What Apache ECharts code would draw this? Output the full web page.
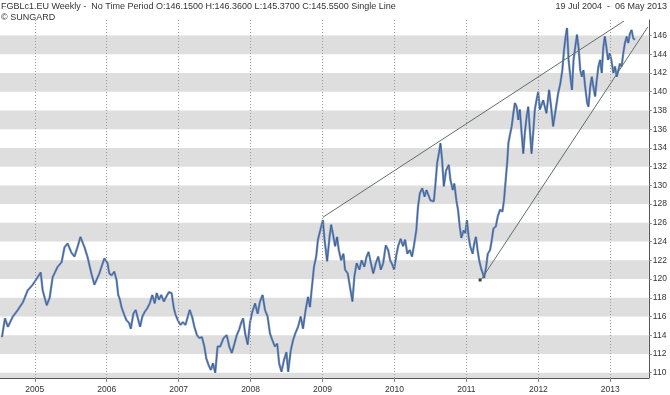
<!DOCTYPE html>
<html>
<head>
<meta charset="utf-8">
<script src="https://cdn.jsdelivr.net/npm/echarts@6/dist/echarts.min.js"></script>
<style>
html,body{margin:0;padding:0;background:#fff;}
#chart{width:670px;height:395px;}
</style>
</head>
<body>
<div id="chart"></div>
<script>
// ---------- data ----------
const titleText = 'FGBLc1.EU Weekly -  No Time Period O:146.1500 H:146.3600 L:145.3700 C:145.5500 Single Line';
const copyrightText = '\u00A9 SUNGARD';
const rangeText = '19 Jul 2004  -  06 May 2013';

const yearTicks = [2005, 2006, 2007, 2008, 2009, 2010, 2011, 2012, 2013];
const priceTicks = [110, 112, 114, 116, 118, 120, 122, 124, 126, 128, 130, 132, 134, 136, 138, 140, 142, 144, 146];

// time in decimal years
const priceTime = [
 2004.544,2004.586,2004.627,2004.696,2004.765,2004.834,2004.903,2004.972,2005.041,2005.083,
 2005.110,2005.166,2005.207,2005.249,2005.318,2005.373,2005.414,2005.456,2005.511,2005.552,
 2005.594,2005.635,2005.691,2005.732,2005.787,2005.829,2005.898,2005.967,2006.012,2006.036,
 2006.068,2006.105,2006.137,2006.160,2006.184,2006.206,2006.243,2006.275,2006.312,2006.335,
 2006.371,2006.404,2006.427,2006.464,2006.496,2006.529,2006.565,2006.598,2006.634,2006.667,
 2006.695,2006.726,2006.758,2006.795,2006.827,2006.864,2006.902,2006.933,2006.957,2006.989,
 2007.026,2007.058,2007.095,2007.127,2007.154,2007.186,2007.219,2007.255,2007.288,2007.324,
 2007.357,2007.385,2007.417,2007.448,2007.476,2007.509,2007.541,2007.578,2007.624,2007.669,
 2007.703,2007.739,2007.776,2007.808,2007.841,2007.868,2007.896,2007.924,2007.959,2007.993,
 2008.024,2008.062,2008.098,2008.131,2008.167,2008.200,2008.236,2008.269,2008.301,2008.338,
 2008.370,2008.397,2008.429,2008.466,2008.498,2008.522,2008.559,2008.591,2008.622,2008.660,
 2008.697,2008.729,2008.761,2008.798,2008.825,2008.853,2008.881,2008.912,2008.936,2008.959,
 2008.981,2009.005,2009.028,2009.064,2009.097,2009.120,2009.143,2009.175,2009.202,2009.226,
 2009.258,2009.291,2009.313,2009.350,2009.374,2009.396,2009.415,2009.443,2009.474,2009.512,
 2009.543,2009.581,2009.613,2009.640,2009.672,2009.705,2009.741,2009.774,2009.810,2009.843,
 2009.879,2009.912,2009.940,2009.972,2009.995,2010.027,2010.054,2010.086,2010.119,2010.147,
 2010.179,2010.211,2010.244,2010.271,2010.303,2010.327,2010.354,2010.386,2010.418,2010.445,
 2010.500,2010.547,2010.570,2010.593,2010.617,2010.639,2010.662,2010.686,2010.717,2010.755,
 2010.777,2010.810,2010.832,2010.860,2010.883,2010.907,2010.929,2010.962,2010.984,2011.007,
 2011.031,2011.053,2011.086,2011.108,2011.132,2011.155,2011.177,2011.205,2011.228,2011.246,
 2011.274,2011.297,2011.329,2011.353,2011.376,2011.408,2011.436,2011.467,2011.500,2011.522,
 2011.546,2011.569,2011.583,2011.605,2011.629,2011.652,2011.674,2011.698,2011.721,2011.743,
 2011.767,2011.790,2011.812,2011.836,2011.859,2011.882,2011.905,2011.928,2011.951,2011.974,
 2011.998,2012.020,2012.067,2012.112,2012.149,2012.181,2012.205,2012.241,2012.274,2012.306,
 2012.333,2012.357,2012.379,2012.398,2012.420,2012.444,2012.467,2012.489,2012.513,2012.536,
 2012.558,2012.582,2012.605,2012.627,2012.651,2012.678,2012.696,2012.720,2012.743,2012.765,
 2012.789,2012.812,2012.835,2012.858,2012.881,2012.903,2012.923,2012.945,2012.968,2012.992,
 2013.014,2013.042,2013.065,2013.089,2013.111,2013.134,2013.157,2013.180,2013.203,2013.227,
 2013.249,2013.272,2013.296,2013.318,2013.343
];
const priceValue = [
 113.8,115.8,114.9,116.0,116.7,117.5,118.8,119.4,120.2,120.7,
 118.8,117.2,118.0,120.2,121.3,121.8,123.4,123.8,122.8,122.4,
 123.4,124.5,123.4,122.4,120.6,119.4,120.6,122.2,121.7,120.6,
 120.4,120.8,119.9,118.3,117.8,117.0,116.2,115.6,115.3,114.7,
 116.3,116.7,116.0,114.9,116.0,116.5,116.9,117.4,118.3,117.4,
 118.5,117.8,118.3,117.6,118.1,118.6,118.5,116.9,116.2,115.6,
 115.1,115.4,115.1,116.0,116.7,116.0,114.9,114.0,113.7,113.8,
 112.8,111.5,110.8,110.3,111.0,110.0,112.8,112.8,113.7,114.0,
 112.8,112.1,113.1,114.0,114.6,115.3,115.8,114.2,113.0,115.4,
 116.5,117.4,116.3,117.6,118.3,116.7,116.0,114.2,113.5,112.8,
 113.1,111.0,110.1,111.4,112.2,110.1,112.4,113.5,114.2,114.9,
 116.0,114.7,116.5,118.1,117.0,119.2,121.3,122.4,124.2,124.9,
 125.6,126.3,124.2,121.9,124.5,125.8,124.9,123.5,124.5,123.1,
 122.0,122.7,121.0,120.6,119.5,118.5,117.6,120.3,121.7,121.0,
 122.0,121.3,122.4,122.9,121.7,120.6,121.7,122.4,121.0,121.7,
 123.6,123.1,122.0,121.5,121.0,122.6,123.6,124.3,123.5,124.2,
 122.7,123.1,122.4,123.6,125.2,127.7,129.2,129.7,128.8,129.5,
 128.4,128.3,130.2,132.4,133.4,134.5,132.7,129.9,131.6,132.2,
 130.6,129.5,130.2,128.4,127.4,125.6,124.4,125.2,124.9,126.3,
 124.5,123.5,122.7,123.8,124.5,123.1,122.0,121.1,120.6,120.1,
 121.3,122.7,123.1,124.2,125.4,125.6,126.7,127.4,127.2,128.4,
 130.6,132.7,134.5,135.4,136.3,137.7,138.8,138.4,137.0,138.1,
 135.6,133.4,135.6,137.3,138.4,135.9,133.4,135.6,138.1,139.1,
 140.0,138.1,139.1,137.7,140.2,138.1,136.3,138.1,139.8,140.9,
 142.3,144.5,145.9,146.8,143.4,141.6,140.2,143.4,144.8,146.1,
 144.8,142.3,141.6,142.3,140.5,138.8,138.4,140.5,141.6,140.5,
 139.5,141.3,142.7,143.4,142.0,144.8,145.9,144.8,143.4,144.1,
 143.4,142.0,142.7,141.6,142.3,143.0,142.7,144.1,145.2,145.9,
 145.2,146.2,146.6,145.7,145.55
];

// drawn trend lines and pivot marker
const upperTrendTime = [2009.005, 2013.190];
const upperTrendValue = [126.6, 147.55];
const lowerTrendTime = [2011.210, 2013.520];
const lowerTrendValue = [120.0, 146.9];
const pivotTime = [2011.190];
const pivotValue = [119.9];

// ---------- layout constants ----------
const X_MIN = 2004.517, X_MAX = 2013.535;
const Y_MIN = 109.434, Y_MAX = 147.66;
const FONT = 'Liberation Sans';

const zip = (a, b) => a.map((v, i) => [v, b[i]]);

// alternating grey bands: below 110, then every other 2-point band
const bands = [[{ yAxis: Y_MIN }, { yAxis: priceTicks[0] }]];
priceTicks.forEach((t, i) => {
  if (i % 2 === 1) bands.push([{ yAxis: t }, { yAxis: t + 2 }]);
});

const chart = echarts.init(document.getElementById('chart'), null, { renderer: 'canvas' });
chart.setOption({
  animation: false,
  backgroundColor: '#ffffff',
  textStyle: { fontFamily: FONT },
  grid: { left: 0, right: 17, top: 20, bottom: 17, containLabel: false },
  graphic: [
    { type: 'text', left: 1, top: 2, style: { text: titleText, font: '9px ' + FONT, fill: '#333' } },
    { type: 'text', left: 1, top: 13, style: { text: copyrightText, font: '9px ' + FONT, fill: '#333' } },
    { type: 'text', right: 3, top: 2, style: { text: rangeText, font: '9px ' + FONT, fill: '#333' } }
  ],
  xAxis: {
    type: 'value', min: X_MIN, max: X_MAX,
    axisLine: { show: true, lineStyle: { color: '#555', width: 1 } },
    axisTick: { show: true, length: 4, customValues: yearTicks, lineStyle: { color: '#888' } },
    axisLabel: { show: true, customValues: yearTicks, margin: 7, fontSize: 8.5, color: '#333', fontFamily: FONT,
                 formatter: v => String(Math.round(v)) },
    splitLine: { show: false }
  },
  yAxis: {
    type: 'value', position: 'right', min: Y_MIN, max: Y_MAX,
    axisLine: { show: true, lineStyle: { color: '#555', width: 1 } },
    axisTick: { show: true, length: 3, customValues: priceTicks, lineStyle: { color: '#888' } },
    axisLabel: { show: true, customValues: priceTicks, margin: 4, fontSize: 8.5, color: '#333', fontFamily: FONT },
    splitLine: { show: false }
  },
  series: [
    {
      type: 'line', data: [], silent: true, z: 1,
      markArea: { silent: true, itemStyle: { color: '#dedede' }, data: bands },
      markLine: {
        silent: true, symbol: ['none', 'none'], label: { show: false },
        lineStyle: { color: '#9a9a9a', type: [1, 2], width: 1 },
        data: yearTicks.map(y => ({ xAxis: y }))
      }
    },
    {
      type: 'line', data: zip(priceTime, priceValue), showSymbol: false, z: 3,
      lineStyle: { color: '#7896c2', width: 2.3 }, silent: true
    },
    {
      type: 'line', data: zip(priceTime, priceValue), showSymbol: false, z: 4,
      lineStyle: { color: '#2b4c83', width: 0.7 }, silent: true
    },
    {
      type: 'line', data: zip(upperTrendTime, upperTrendValue), showSymbol: false, z: 5,
      lineStyle: { color: '#5f6f6a', width: 1 }, silent: true
    },
    {
      type: 'line', data: zip(lowerTrendTime, lowerTrendValue), showSymbol: false, z: 5,
      lineStyle: { color: '#5f6f6a', width: 1 }, silent: true
    },
    {
      type: 'scatter', data: zip(pivotTime, pivotValue), symbol: 'rect', symbolSize: 3, z: 6,
      itemStyle: { color: '#111' }, silent: true
    }
  ]
});
</script>
</body>
</html>
